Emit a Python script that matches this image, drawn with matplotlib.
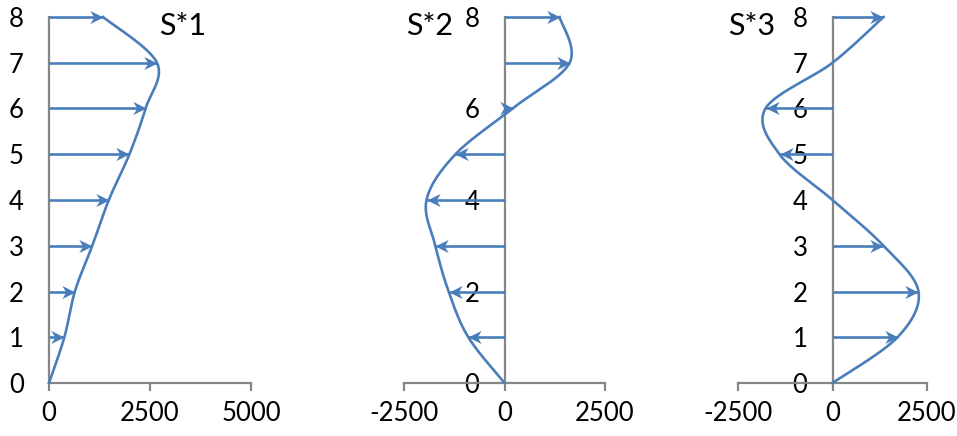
import numpy as np
import matplotlib
matplotlib.use("Agg")
import matplotlib.pyplot as plt
from matplotlib.path import Path
from matplotlib.markers import MarkerStyle
from matplotlib.transforms import Affine2D

# Storey levels and modal storey forces for the first three modes
levels = [0, 1, 2, 3, 4, 5, 6, 7, 8]
mode1 = [0, 380, 640, 1070, 1480, 1990, 2390, 2673, 1337]
mode2 = [0, -900, -1390, -1720, -1940, -1220, 200, 1620, 1370]
mode3 = [0, 1720, 2275, 1349, 0, -1402, -1772, 0, 1349]

titles = ["S*1", "S*2", "S*3"]
xlims = [(0, 5000), (-2500, 2500), (-2500, 2500)]
xticks = [[0, 2500, 5000], [-2500, 0, 2500], [-2500, 0, 2500]]
yticks = [[0, 1, 2, 3, 4, 5, 6, 7, 8], [0, 2, 4, 6, 8], [0, 1, 2, 3, 4, 5, 6, 7, 8]]

BLUE = "#4A7EBB"
GREY = "#868686"
FONT = ["Lato", "DejaVu Sans"]

plt.rcParams["font.family"] = FONT
plt.rcParams["axes.unicode_minus"] = False

W, H = 957, 436
fig = plt.figure(figsize=(W / 100, H / 100), dpi=100)

# panel boxes in pixels: left, right
boxes = [(49, 251), (404, 605), (738, 927)]
y_top, y_bot = 17, 383


def smooth(xs, ys, n=30):
    """Catmull-Rom spline through the points."""
    px = np.array(xs, float)
    py = np.array(ys, float)
    px = np.concatenate([[px[0]], px, [px[-1]]])
    py = np.concatenate([[py[0]], py, [py[-1]]])
    outx, outy = [], []
    for i in range(1, len(px) - 2):
        p0, p1, p2, p3 = [np.array([px[j], py[j]]) for j in (i - 1, i, i + 1, i + 2)]
        c1 = p1 + (p2 - p0) / 6.0
        c2 = p2 - (p3 - p1) / 6.0
        t = np.linspace(0, 1, n)[:, None]
        seg = ((1 - t) ** 3) * p1 + 3 * ((1 - t) ** 2) * t * c1 + 3 * (1 - t) * t ** 2 * c2 + t ** 3 * p2
        outx.extend(seg[:, 0])
        outy.extend(seg[:, 1])
    return outx, outy


# stealth arrowhead with tip at the origin, pointing right
head_path = Path([(0, 0), (-1, 0.5), (-0.7, 0), (-1, -0.5), (0, 0)],
                 [Path.MOVETO, Path.LINETO, Path.LINETO, Path.LINETO, Path.CLOSEPOLY])
head_right = MarkerStyle(head_path)
head_left = MarkerStyle(head_path, transform=Affine2D().rotate_deg(180))

for k, (vals, (xl, xr)) in enumerate(zip([mode1, mode2, mode3], boxes)):
    ax = fig.add_axes([xl / W, (H - y_bot) / H, (xr - xl) / W, (y_bot - y_top) / H])
    ax.set_xlim(*xlims[k])
    ax.set_ylim(0, 8)
    ax.set_facecolor("none")

    for s in ("top", "right"):
        ax.spines[s].set_visible(False)
    ax.spines["left"].set_position(("data", 0))
    ax.spines["left"].set_zorder(1)
    for s in ("left", "bottom"):
        ax.spines[s].set_color(GREY)
        ax.spines[s].set_linewidth(1.6)

    ax.set_xticks(xticks[k])
    ax.set_yticks(yticks[k])
    ax.tick_params(axis="x", direction="out", length=6, width=1.6, color=GREY,
                   pad=7, labelsize=18.5)
    ax.tick_params(axis="y", length=0, pad=18, labelsize=18.5)

    # storey force arrows
    for y, v in zip(levels, vals):
        if v == 0:
            continue
        ax.plot([0, v], [y, y], color=BLUE, lw=1.9, clip_on=False, zorder=3,
                solid_capstyle="butt")
        ax.plot([v], [y], linestyle="none", marker=head_right if v > 0 else head_left,
                markersize=19, color=BLUE, markeredgewidth=0, clip_on=False, zorder=4)

    # smooth force profile
    cx, cy = smooth(vals, levels)
    ax.plot(cx, cy, color=BLUE, lw=1.9, clip_on=False, zorder=3)

title_pos = [(183, 26), (430, 26), (752, 26)]
for t, (tx, ty) in zip(titles, title_pos):
    fig.text(tx / W, 1 - ty / H, t, ha="center", va="center", fontsize=22)

fig.savefig("out.png", dpi=100)
